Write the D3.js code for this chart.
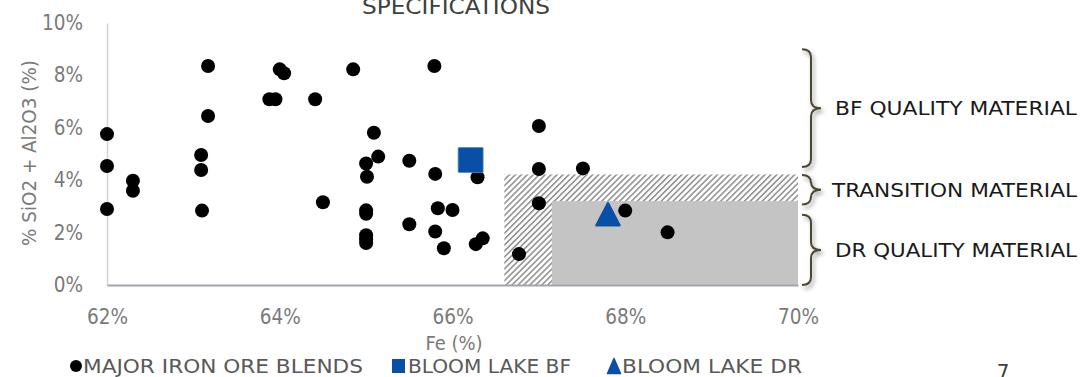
<!DOCTYPE html>
<html>
<head>
<meta charset="utf-8">
<script src="https://cdn.jsdelivr.net/npm/d3@7"></script>
<style>
  html, body { margin: 0; padding: 0; background: #fff; }
  svg { display: block; }
  text { font-family: "DejaVu Sans Condensed", "Liberation Sans Narrow", "DejaVu Sans", sans-serif; }
</style>
</head>
<body>
<svg id="chart" width="1092" height="377"></svg>
<script>
// Major iron ore blends: Fe grade (%) and SiO2 + Al2O3 (%)
const blendFe = [62.0, 62.0, 62.0, 62.3, 62.3, 63.09, 63.09, 63.1, 63.17, 63.17,
  63.88, 63.95, 64.0, 64.05, 64.41, 64.5, 64.85, 65.79, 65.09, 65.14,
  65.0, 65.5, 65.01, 65.8, 66.29, 65.0, 65.0, 65.83, 66.0, 65.5,
  65.0, 65.0, 65.0, 65.8, 65.9, 66.27, 66.35, 67.0, 67.0, 67.51,
  67.0, 66.77, 68.0, 68.49];
const blendGangue = [5.76, 4.54, 2.9, 3.98, 3.6, 4.96, 4.39, 2.84, 8.36, 6.45,
  7.09, 7.09, 8.23, 8.08, 7.09, 3.16, 8.23, 8.36, 5.81, 4.9,
  4.64, 4.74, 4.13, 4.24, 4.11, 2.85, 2.72, 2.93, 2.86, 2.32,
  1.9, 1.75, 1.6, 2.04, 1.4, 1.56, 1.78, 6.07, 4.43, 4.45,
  3.12, 1.18, 2.84, 2.01];

// Bloom Lake products
const bloomLakeBF = [66.21, 4.77];
const bloomLakeDR = [67.8, 2.7];

// Quality zones: [Fe min, Fe max, gangue max]
const transitionZone = [66.6, 70, 4.22];
const drZone = [67.15, 70, 3.2];

// Brace bands on the right: [label, gangue top, gangue bottom]
const bandLabels = ["BF QUALITY MATERIAL", "TRANSITION MATERIAL", "DR QUALITY MATERIAL"];
const bandTops = [9.0, 4.2, 2.68];
const bandBottoms = [4.5, 3.07, 0];

const xTicks = [62, 64, 66, 68, 70];
const yTicks = [0, 2, 4, 6, 8, 10];
const legendLabels = ["MAJOR IRON ORE BLENDS", "BLOOM LAKE BF", "BLOOM LAKE DR"];

const svg = d3.select("#chart");
const blue = "#0a4fa6";

const x = d3.scaleLinear().domain([62, 70]).range([107, 798]);
const y = d3.scaleLinear().domain([0, 10]).range([285, 23]);

const defs = svg.append("defs");
const hatch = defs.append("pattern")
  .attr("id", "hatch").attr("patternUnits", "userSpaceOnUse")
  .attr("width", 4.2).attr("height", 4.2)
  .attr("patternTransform", "rotate(45)");
hatch.append("rect").attr("width", 4.2).attr("height", 4.2).attr("fill", "#fff");
hatch.append("line").attr("x1", 0.8).attr("y1", 0).attr("x2", 0.8).attr("y2", 4.2)
  .attr("stroke", "#7a7a7a").attr("stroke-width", 1.3);

const shadow = defs.append("filter").attr("id", "shadow")
  .attr("x", "-50%").attr("y", "-20%").attr("width", "200%").attr("height", "140%");
shadow.append("feDropShadow").attr("dx", 2).attr("dy", 3).attr("stdDeviation", 2.2)
  .attr("flood-color", "#000").attr("flood-opacity", 0.4);

// Title (top of the slide, partly outside the view)
svg.append("text").attr("x", 456).attr("y", 14).attr("text-anchor", "middle")
  .attr("font-size", 22).attr("fill", "#404040").attr("textLength", 188)
  .attr("lengthAdjust", "spacingAndGlyphs").text("SPECIFICATIONS");

// Zones
svg.append("rect")
  .attr("x", x(transitionZone[0])).attr("y", y(transitionZone[2]))
  .attr("width", x(transitionZone[1]) - x(transitionZone[0]))
  .attr("height", y(0) - y(transitionZone[2]))
  .attr("fill", "url(#hatch)");
svg.append("rect")
  .attr("x", x(drZone[0])).attr("y", y(drZone[2]))
  .attr("width", x(drZone[1]) - x(drZone[0]))
  .attr("height", y(0) - y(drZone[2]))
  .attr("fill", "#c4c4c4");

// Axes
const yAxis = svg.append("g").attr("transform", `translate(${x(62)},0)`)
  .call(d3.axisLeft(y).tickValues(yTicks).tickSize(0).tickPadding(24)
    .tickFormat(d => d + "%"));
yAxis.select(".domain").attr("stroke", "#d4d4d8").attr("stroke-width", 1.5);
yAxis.selectAll("text").attr("font-size", 20.5).attr("fill", "#7a7a7a");

const xAxis = svg.append("g").attr("transform", `translate(0,${y(0)})`)
  .call(d3.axisBottom(x).tickValues(xTicks).tickSize(0).tickPadding(24)
    .tickFormat(d => d + "%"));
xAxis.select(".domain").attr("stroke", "#a4a4ac").attr("stroke-width", 2.2);
xAxis.selectAll("text").attr("font-size", 20.5).attr("fill", "#7a7a7a");

svg.append("text").attr("transform", "translate(36,153) rotate(-90)")
  .attr("text-anchor", "middle").attr("font-size", 20).attr("fill", "#7a7a7a")
  .attr("textLength", 186).attr("lengthAdjust", "spacingAndGlyphs")
  .text("% SiO2 + Al2O3 (%)");
svg.append("text").attr("x", 454).attr("y", 350).attr("text-anchor", "middle")
  .attr("font-size", 20).attr("fill", "#7a7a7a").text("Fe (%)");

// Marks
svg.append("g").selectAll("circle").data(d3.range(blendFe.length)).join("circle")
  .attr("cx", i => x(blendFe[i])).attr("cy", i => y(blendGangue[i]))
  .attr("r", 7).attr("fill", "#000");

svg.append("rect")
  .attr("x", x(bloomLakeBF[0]) - 12.5).attr("y", y(bloomLakeBF[1]) - 12.5)
  .attr("width", 25).attr("height", 25).attr("rx", 1)
  .attr("fill", blue).attr("stroke", "#5b86c4").attr("stroke-width", 0.8);

const tri = (cx, cy, w, h) => `M${cx},${cy - h / 2} L${cx + w / 2},${cy + h / 2} L${cx - w / 2},${cy + h / 2} Z`;
svg.append("path")
  .attr("d", tri(x(bloomLakeDR[0]), y(bloomLakeDR[1]), 23, 22))
  .attr("fill", blue).attr("stroke", blue).attr("stroke-width", 2.5)
  .attr("stroke-linejoin", "round");

// Braces and their labels
const brace = (top, bottom) => {
  const x0 = 802, x1 = 811, x2 = 821, r = 8, mid = (top + bottom) / 2;
  return `M${x0},${top} Q${x1},${top} ${x1},${top + r} L${x1},${mid - r} Q${x1},${mid} ${x2},${mid}` +
    ` Q${x1},${mid} ${x1},${mid + r} L${x1},${bottom - r} Q${x1},${bottom} ${x0},${bottom}`;
};
const labelLens = [242, 245, 242];
bandLabels.forEach((lab, i) => {
  const t = y(bandTops[i]), b = y(bandBottoms[i]);
  svg.append("path").attr("d", brace(t, b)).attr("fill", "none")
    .attr("stroke", "#4b4731").attr("stroke-width", 2).attr("filter", "url(#shadow)");
  svg.append("text").attr("x", 1077 - labelLens[i]).attr("y", (t + b) / 2)
    .attr("dy", "0.35em").attr("font-size", 20).attr("fill", "#1a1a1a")
    .attr("textLength", labelLens[i]).attr("lengthAdjust", "spacingAndGlyphs")
    .text(lab);
});

// Legend
const legY = 366;
const leg = svg.append("g").attr("font-size", 19).attr("fill", "#595959");
leg.append("circle").attr("cx", 76).attr("cy", legY).attr("r", 6).attr("fill", "#000");
leg.append("text").attr("x", 83).attr("y", legY).attr("dy", "0.35em")
  .attr("textLength", 280).attr("lengthAdjust", "spacingAndGlyphs").text(legendLabels[0]);
leg.append("rect").attr("x", 392).attr("y", legY - 7).attr("width", 13).attr("height", 14).attr("fill", blue);
leg.append("text").attr("x", 408).attr("y", legY).attr("dy", "0.35em")
  .attr("textLength", 163).attr("lengthAdjust", "spacingAndGlyphs").text(legendLabels[1]);
leg.append("path").attr("d", tri(614, legY, 13, 15)).attr("fill", blue)
  .attr("stroke", blue).attr("stroke-width", 1.5).attr("stroke-linejoin", "round");
leg.append("text").attr("x", 622).attr("y", legY).attr("dy", "0.35em")
  .attr("textLength", 180).attr("lengthAdjust", "spacingAndGlyphs").text(legendLabels[2]);

// Page number
svg.append("text").attr("x", 1003).attr("y", 380).attr("text-anchor", "middle")
  .attr("font-size", 22).attr("fill", "#404040").text("7");
</script>
</body>
</html>
